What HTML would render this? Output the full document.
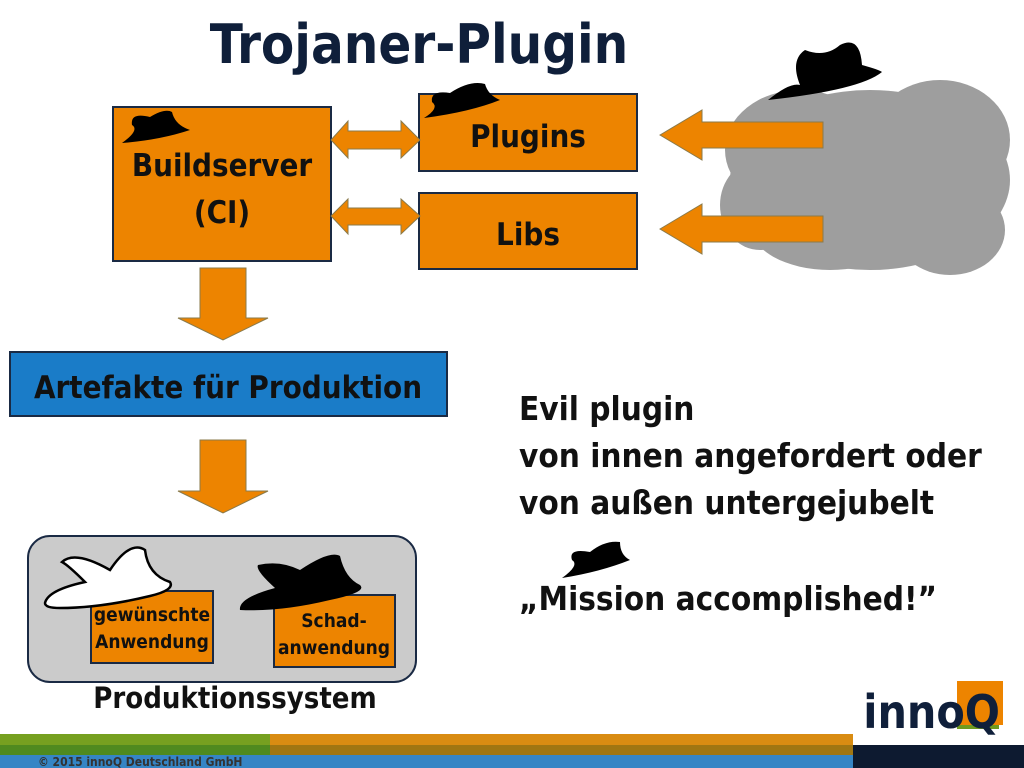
<!DOCTYPE html>
<html><head><meta charset="utf-8"><style>
html,body{margin:0;padding:0;background:#fff;}
svg{display:block}
text{font-family:"DejaVu Sans Condensed","Liberation Sans",sans-serif;font-weight:bold;}
</style></head><body>
<svg width="1024" height="768" viewBox="0 0 1024 768" xmlns="http://www.w3.org/2000/svg">
<text x="419" y="63" text-anchor="middle" font-size="54" fill="#0f1f3a">Trojaner-Plugin</text>

<!-- cloud -->
<g fill="#9e9e9e">
<ellipse cx="870" cy="180" rx="140" ry="90"/>
<ellipse cx="800" cy="150" rx="75" ry="60"/>
<ellipse cx="940" cy="140" rx="70" ry="60"/>
<ellipse cx="830" cy="225" rx="80" ry="45"/>
<ellipse cx="950" cy="230" rx="55" ry="45"/>
<ellipse cx="760" cy="205" rx="40" ry="45"/>
</g>
<path d="M768 100 Q790 82 800 85 Q790 60 805 50 Q825 58 840 45 Q860 35 862 65 Q880 70 882 72 Q860 90 768 100Z" fill="#000"/>

<rect x="113" y="107" width="218" height="154" fill="#ed8400" stroke="#1a2a44" stroke-width="2"/>
<rect x="419" y="94" width="218" height="77" fill="#ed8400" stroke="#1a2a44" stroke-width="2"/>
<rect x="419" y="193" width="218" height="76" fill="#ed8400" stroke="#1a2a44" stroke-width="2"/>
<text x="222" y="176" text-anchor="middle" font-size="31" fill="#111">Buildserver</text>
<text x="222" y="223" text-anchor="middle" font-size="31" fill="#111">(CI)</text>
<text x="528" y="147" text-anchor="middle" font-size="31" fill="#111">Plugins</text>
<text x="528" y="245" text-anchor="middle" font-size="31" fill="#111">Libs</text>
<path d="M122 143 Q140 130 132 125 Q130 112 150 117 Q165 108 172 112 Q175 125 190 130 Q160 140 122 143Z" fill="#000"/>
<path d="M424 118 Q440 108 432 102 Q430 90 450 93 Q470 80 485 84 Q488 95 500 100 Q470 112 424 118Z" fill="#000"/>

<g fill="#ed8400" stroke="#8a7a4a" stroke-width="1">
<path d="M331 140 L348 121 L348 131 L401 131 L401 121 L420 140 L401 158 L401 149 L348 149 L348 158Z"/>
<path d="M331 216 L348 199 L348 208 L401 208 L401 199 L420 216 L401 234 L401 225 L348 225 L348 234Z"/>
<path d="M660 135 L702 110 L702 122 L823 122 L823 148 L702 148 L702 160Z"/>
<path d="M660 229 L702 204 L702 216 L823 216 L823 242 L702 242 L702 254Z"/>
<path d="M200 268 L246 268 L246 318 L268 318 L223 340 L178 318 L200 318Z"/>
<path d="M200 440 L246 440 L246 491 L268 491 L223 513 L178 491 L200 491Z"/>
</g>

<rect x="10" y="352" width="437" height="64" fill="#1a7cc8" stroke="#1a2a44" stroke-width="2"/>
<text x="228" y="398" text-anchor="middle" font-size="31" fill="#111">Artefakte für Produktion</text>

<text font-size="33" fill="#111"><tspan x="519" y="420">Evil plugin</tspan><tspan x="519" y="467">von innen angefordert oder</tspan><tspan x="519" y="514">von außen untergejubelt</tspan><tspan x="519" y="610">„Mission accomplished!”</tspan></text>
<path d="M562 578 Q580 565 572 560 Q568 548 590 552 Q605 540 620 542 Q620 555 630 560 Q600 572 562 578Z" fill="#000"/>

<rect x="28" y="536" width="388" height="146" rx="22" fill="#cbcbcb" stroke="#1a2a44" stroke-width="2"/>
<rect x="91" y="591" width="122" height="72" fill="#ed8400" stroke="#1a2a44" stroke-width="2"/>
<rect x="274" y="595" width="121" height="72" fill="#ed8400" stroke="#1a2a44" stroke-width="2"/>
<path d="M45 603 Q48 590 85 582 Q68 565 62 562 Q75 550 110 570 Q130 540 145 550 Q148 575 170 582 Q175 590 150 596 Q100 608 60 608 Q45 608 45 603Z" fill="#fff" stroke="#000" stroke-width="2.5"/>
<path d="M240 610 Q238 598 275 588 Q255 570 258 565 Q280 560 300 570 Q330 550 340 556 Q345 578 360 585 Q368 592 330 600 Q280 612 240 610Z" fill="#000"/>
<text x="152" y="621" text-anchor="middle" font-size="19" fill="#111">gewünschte</text>
<text x="152" y="648" text-anchor="middle" font-size="19" fill="#111">Anwendung</text>
<text x="334" y="627" text-anchor="middle" font-size="19" fill="#111">Schad-</text>
<text x="334" y="654" text-anchor="middle" font-size="19" fill="#111">anwendung</text>
<text x="235" y="708" text-anchor="middle" font-size="29" fill="#111">Produktionssystem</text>

<rect x="957" y="681" width="42" height="48" fill="#6f9a1f"/>
<rect x="957" y="681" width="46" height="44" fill="#ed8400"/>
<text x="1000" y="728" text-anchor="end" font-size="46" fill="#0f1f3a">innoQ</text>

<rect x="0" y="734" width="270" height="11" fill="#76a020"/>
<rect x="0" y="745" width="270" height="10" fill="#4f8a1f"/>
<rect x="270" y="734" width="583" height="11" fill="#d98c12"/>
<rect x="270" y="745" width="583" height="10" fill="#a07612"/>
<rect x="0" y="755" width="853" height="13" fill="#3585c5"/>
<rect x="853" y="745" width="171" height="23" fill="#0d1a30"/>
<text x="38" y="766" font-size="12" fill="#333">© 2015 innoQ Deutschland GmbH</text>
</svg>
</body></html>
